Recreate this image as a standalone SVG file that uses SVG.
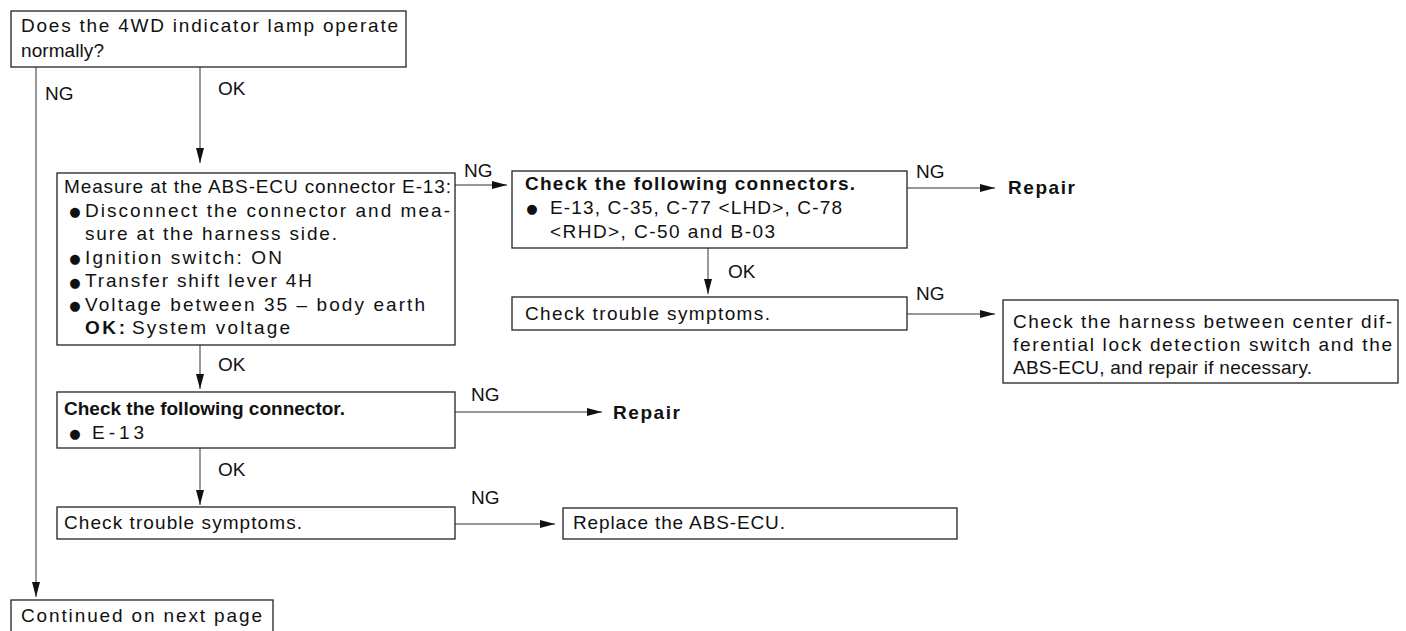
<svg xmlns="http://www.w3.org/2000/svg" width="1406" height="631" viewBox="0 0 1406 631">
<style>
text{font-family:"Liberation Sans",Arial,sans-serif;font-size:19px;fill:#111}
.b{font-weight:bold}
.bul{font-family:"DejaVu Sans",sans-serif;font-size:13px}
.box{fill:#fff;stroke:#222;stroke-width:1.3}
.ln{fill:none;stroke:#333;stroke-width:1;marker-end:url(#ah)}
</style>
<defs>
<marker id="ah" markerUnits="userSpaceOnUse" markerWidth="16" markerHeight="9" refX="15" refY="4" orient="auto">
<path d="M0,0 L15,4 L0,8 z" fill="#111"/>
</marker>
</defs>
<rect width="1406" height="631" fill="#fff"/>
<g id="connectors">
<line class="ln" x1="36" y1="67" x2="36" y2="597"/>
<line class="ln" x1="200" y1="67" x2="200" y2="163"/>
<line class="ln" x1="455" y1="185" x2="507" y2="185"/>
<line class="ln" x1="200" y1="345" x2="200" y2="389"/>
<line class="ln" x1="907" y1="188" x2="995" y2="188"/>
<line class="ln" x1="708" y1="248" x2="708" y2="294"/>
<line class="ln" x1="907" y1="314" x2="995" y2="314"/>
<line class="ln" x1="455" y1="412" x2="602" y2="412"/>
<line class="ln" x1="200" y1="448" x2="200" y2="505"/>
<line class="ln" x1="455" y1="524" x2="555" y2="524"/>
<text x="45" y="100">NG</text>
<text x="218" y="95">OK</text>
<text x="464" y="177">NG</text>
<text x="916" y="178">NG</text>
<text x="916" y="300">NG</text>
<text x="728" y="278">OK</text>
<text x="218" y="371">OK</text>
<text x="471" y="401">NG</text>
<text x="218" y="476">OK</text>
<text x="471" y="504">NG</text>
</g>
<g id="n-start">
<rect class="box" x="11" y="11" width="395" height="56"/>
<text x="21" y="32" textLength="377" lengthAdjust="spacing">Does the 4WD indicator lamp operate</text>
<text x="21" y="57" textLength="83" lengthAdjust="spacing">normally?</text>
</g>
<g id="n-measure">
<rect class="box" x="57" y="173" width="398" height="172"/>
<text x="64" y="193" textLength="387" lengthAdjust="spacing">Measure at the ABS-ECU connector E-13:</text>
<text class="bul" x="75" y="216" text-anchor="middle">●</text>
<text x="85" y="216.5" textLength="365" lengthAdjust="spacing">Disconnect the connector and mea-</text>
<text x="85" y="240" textLength="252" lengthAdjust="spacing">sure at the harness side.</text>
<text class="bul" x="75" y="263" text-anchor="middle">●</text>
<text x="85" y="263.5" textLength="197" lengthAdjust="spacing">Ignition switch: ON</text>
<text class="bul" x="75" y="286.5" text-anchor="middle">●</text>
<text x="85" y="287" textLength="227" lengthAdjust="spacing">Transfer shift lever 4H</text>
<text class="bul" x="75" y="310" text-anchor="middle">●</text>
<text x="85" y="310.5" textLength="340" lengthAdjust="spacing">Voltage between 35 – body earth</text>
<text class="b" x="85" y="334" textLength="40" lengthAdjust="spacing">OK:</text>
<text x="132" y="334" textLength="158" lengthAdjust="spacing">System voltage</text>
</g>
<g id="n-check-connectors">
<rect class="box" x="512" y="171" width="395" height="77"/>
<text class="b" x="525" y="190" textLength="330" lengthAdjust="spacing">Check the following connectors.</text>
<text class="bul" x="532" y="213" text-anchor="middle">●</text>
<text x="550" y="214" textLength="292" lengthAdjust="spacing">E-13, C-35, C-77 &lt;LHD&gt;, C-78</text>
<text x="550" y="238" textLength="225" lengthAdjust="spacing">&lt;RHD&gt;, C-50 and B-03</text>
</g>
<g id="n-repair-1">
<text class="b" x="1008" y="194" textLength="67" lengthAdjust="spacing">Repair</text>
</g>
<g id="n-trouble-1">
<rect class="box" x="512" y="297" width="395" height="33"/>
<text x="525" y="320" textLength="245" lengthAdjust="spacing">Check trouble symptoms.</text>
</g>
<g id="n-harness">
<rect class="box" x="1003" y="300" width="395" height="83"/>
<text x="1013" y="328" textLength="379" lengthAdjust="spacing">Check the harness between center dif-</text>
<text x="1013" y="351" textLength="379" lengthAdjust="spacing">ferential lock detection switch and the</text>
<text x="1013" y="374" textLength="299" lengthAdjust="spacing">ABS-ECU, and repair if necessary.</text>
</g>
<g id="n-check-connector">
<rect class="box" x="57" y="392" width="398" height="56"/>
<text class="b" x="64" y="415" textLength="281" lengthAdjust="spacing">Check the following connector.</text>
<text class="bul" x="75" y="438" text-anchor="middle">●</text>
<text x="92" y="439" textLength="52" lengthAdjust="spacing">E-13</text>
</g>
<g id="n-repair-2">
<text class="b" x="613" y="419" textLength="67" lengthAdjust="spacing">Repair</text>
</g>
<g id="n-trouble-2">
<rect class="box" x="57" y="507" width="398" height="32"/>
<text x="64" y="529" textLength="238" lengthAdjust="spacing">Check trouble symptoms.</text>
</g>
<g id="n-replace">
<rect class="box" x="563" y="508" width="394" height="31"/>
<text x="573" y="529" textLength="212" lengthAdjust="spacing">Replace the ABS-ECU.</text>
</g>
<g id="n-continued">
<rect class="box" x="11" y="600" width="262" height="40"/>
<text x="21" y="622" textLength="241" lengthAdjust="spacing">Continued on next page</text>
</g>
</svg>
